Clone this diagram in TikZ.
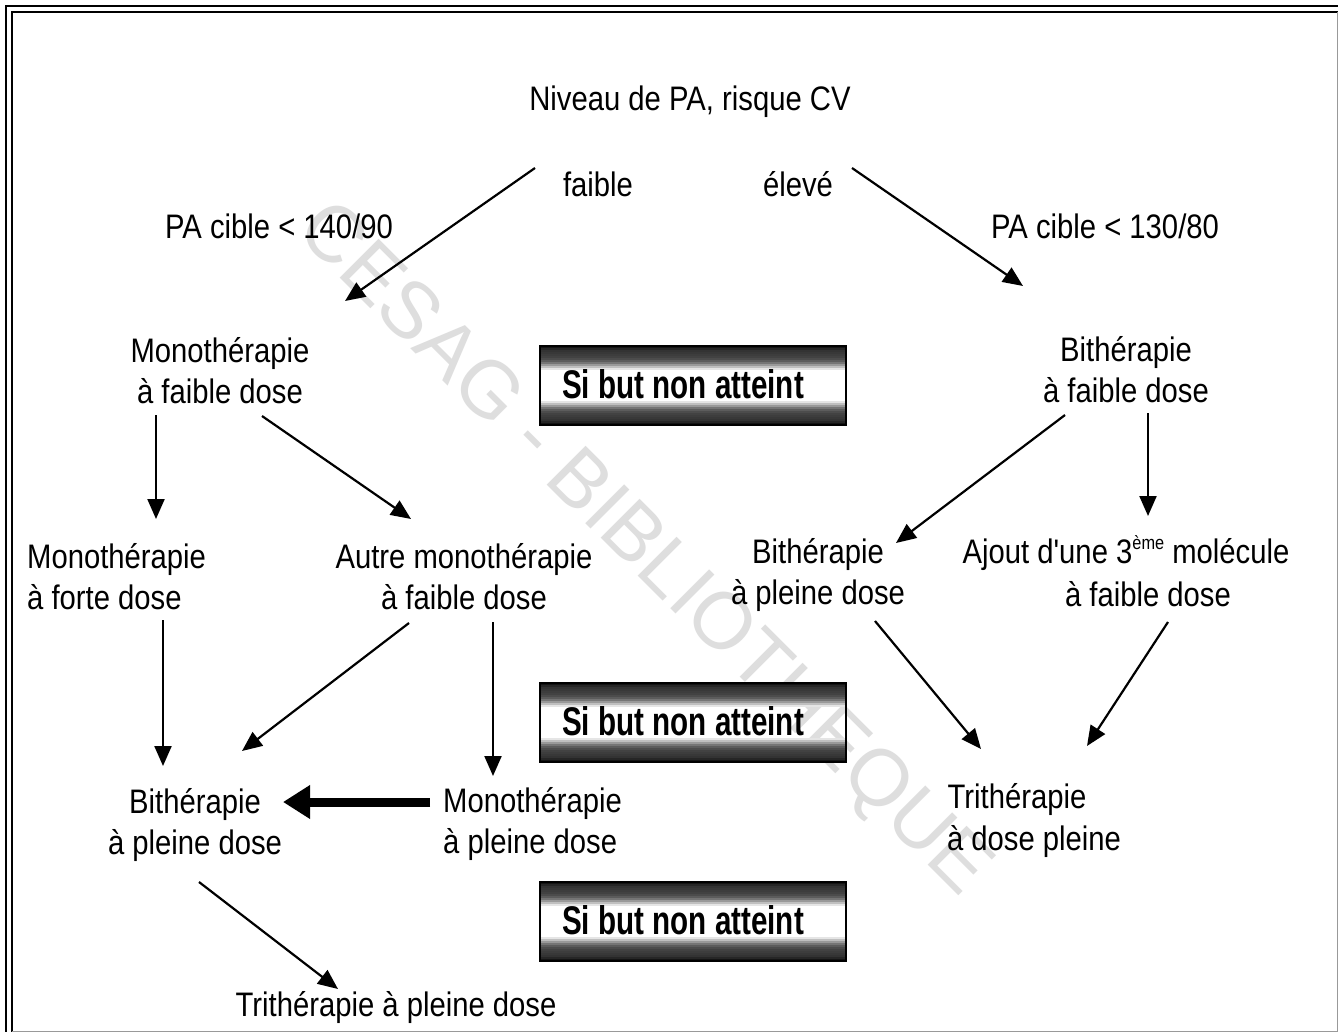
\documentclass[tikz,border=0pt]{standalone}
\usepackage{fontspec}
\usetikzlibrary{arrows.meta}
\newfontfamily\txtfont[FakeStretch=0.86]{Liberation Sans}
\newfontfamily\boldfont[FakeStretch=0.74]{Liberation Sans Bold}
\newfontfamily\wmfont{Liberation Sans}
\tikzset{
  lbl/.style={inner sep=0pt, font=\txtfont\fontsize{34}{41}\selectfont, text=black},
  arr/.style={line width=2.2pt, -{Triangle[length=20pt,width=17pt]}},
  bigarr/.style={line width=9pt, -{Triangle[length=27pt,width=32pt]}},
  siframe/.style={draw=black, line width=1.5pt},
  sitext/.style={inner sep=0pt, font=\boldfont\fontsize{40}{40}\selectfont},
}
\begin{document}
\begin{tikzpicture}[x=1pt,y=-1pt]
\useasboundingbox (0,0) rectangle (1338,1032);
\fill[white] (0,0) rectangle (1338,1032);
% border
\draw[line width=2pt] (6,1032) -- (6,6) -- (1338,6);
\draw[line width=2pt] (12,1032) -- (12,12) -- (1338,12);
\draw[line width=1pt, black!40] (1337,12) -- (1337,1031) -- (12,1031);
% watermark
\node[inner sep=0pt, rotate=-45, text=black!13, font=\wmfont\fontsize{80}{80}\selectfont] (wm) at (642,551) {CESAG - BIBLIOTHEQUE};
% boxes
\foreach \yy/\nm in {346/box1, 683/box2, 882/box3}{
  \foreach \o/\p in {0/92, 2/85, 4/80, 6/78, 8/76, 10/74, 12/70, 14/64, 16/54, 18/40, 20/25, 22/10}{
    \fill[black!\p] (540,\yy+\o) rectangle (846,\yy+\o+2.05);
    \fill[black!\p] (540,\yy+79-\o) rectangle (846,\yy+79-\o-2.05);
  }
  \draw[siframe] (540,\yy) rectangle (846,\yy+79);
  \node[sitext] (\nm) at (683,\yy+38) {Si but non atteint};
}
% texts
\node[lbl] (top) at (690,102) {Niveau de PA, risque CV};
\node[lbl] (faible) at (598,184) {faible};
\node[lbl] (eleve) at (798,184) {élevé};
\node[lbl] (cibleL) at (279,226) {PA cible < 140/90};
\node[lbl] (cibleR) at (1105,226) {PA cible < 130/80};
\node[lbl, align=center] (mono1) at (220,371) {Monothérapie\\à faible dose};
\node[lbl, align=center] (bi1) at (1126,370) {Bithérapie\\à faible dose};
\node[lbl, align=left, anchor=west] (monoforte) at (27,577) {Monothérapie\\à forte dose};
\node[lbl, align=center] (autre) at (464,577) {Autre monothérapie\\à faible dose};
\node[lbl, align=center] (biR) at (818,575) {Bithérapie\\à pleine dose};
\node[lbl] (ajout1) at (1126,553) {Ajout d'une 3\raisebox{0.42em}{\fontsize{19}{19}\selectfont ème} molécule};
\node[lbl] (ajout2) at (1148,594) {à faible dose};
\node[lbl, align=center] (biL) at (195,825) {Bithérapie\\à pleine dose};
\node[lbl, align=left, anchor=west] (monopl) at (443,824) {Monothérapie\\à pleine dose};
\node[lbl] (tri1) at (1017,800) {Trithérapie};
\node[lbl] (tri2) at (1034,842) {à dose pleine};
\node[lbl] (tripl) at (396,1008) {Trithérapie à pleine dose};
% arrow endpoints
\coordinate (a1s) at (535,168); \coordinate (a1e) at (345,301);
\coordinate (a2s) at (852,168); \coordinate (a2e) at (1023,286);
\coordinate (a3s) at (156,415); \coordinate (a3e) at (156,519);
\coordinate (a4s) at (262,416); \coordinate (a4e) at (411,519);
\coordinate (a5s) at (1065,415); \coordinate (a5e) at (896,543);
\coordinate (a6s) at (1148,413); \coordinate (a6e) at (1148,516);
\coordinate (a7s) at (163,620); \coordinate (a7e) at (163,766);
\coordinate (a8s) at (409,623); \coordinate (a8e) at (242,751);
\coordinate (a9s) at (493,622); \coordinate (a9e) at (493,776);
\coordinate (a10s) at (875,621); \coordinate (a10e) at (981,749);
\coordinate (a11s) at (1168,622); \coordinate (a11e) at (1087,746);
\coordinate (a12s) at (430,802); \coordinate (a12e) at (283,802);
\coordinate (a13s) at (199,882); \coordinate (a13e) at (338,989);
\draw[arr] (a1s) -- (a1e);
\draw[arr] (a2s) -- (a2e);
\draw[arr] (a3s) -- (a3e);
\draw[arr] (a4s) -- (a4e);
\draw[arr] (a5s) -- (a5e);
\draw[arr] (a6s) -- (a6e);
\draw[arr] (a7s) -- (a7e);
\draw[arr] (a8s) -- (a8e);
\draw[arr] (a9s) -- (a9e);
\draw[arr] (a10s) -- (a10e);
\draw[arr] (a11s) -- (a11e);
\draw[bigarr] (a12s) -- (a12e);
\draw[arr] (a13s) -- (a13e);
\end{tikzpicture}
\end{document}
